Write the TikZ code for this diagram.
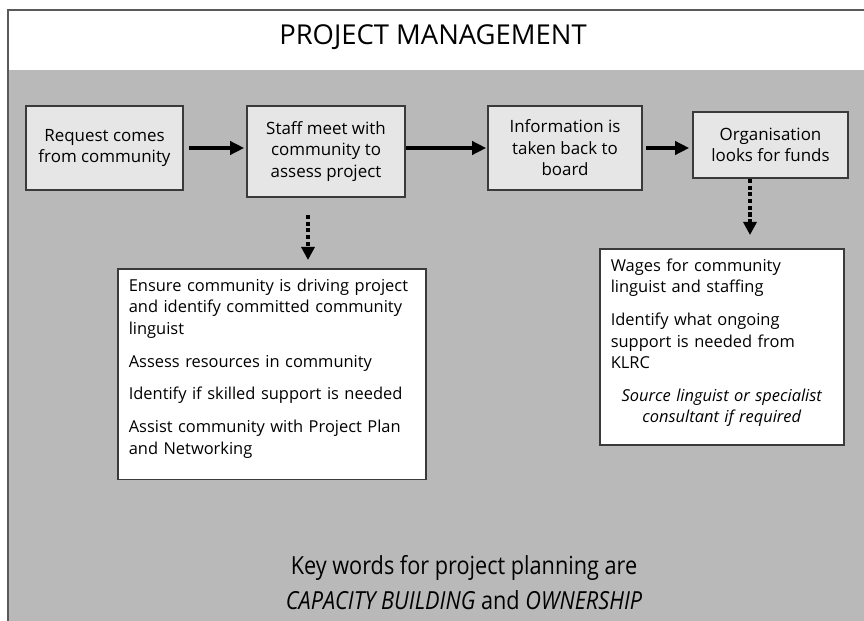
\documentclass[tikz,border=0pt]{standalone}
\usepackage{fontspec}
\setmainfont{Open Sans}
\newfontfamily\narrowfont[FakeStretch=0.87]{Open Sans}
\usetikzlibrary{positioning,arrows.meta}
\definecolor{panelgray}{HTML}{B9B9B9}
\definecolor{boxgray}{HTML}{E6E6E6}
\definecolor{linegray}{HTML}{3A3A3A}
\tikzset{stage box/.style={draw=linegray,line width=1.6bp,fill=boxgray,align=center,inner sep=0pt,font=\fontsize{17}{21.5}\selectfont},
  note box/.style={draw=linegray,line width=1.6bp,fill=white,align=left,anchor=north west,inner xsep=11bp,inner ysep=10bp,font=\fontsize{16.5}{21.5}\selectfont},
  flow arrow/.style={line width=4.5bp,-{Triangle[length=14bp,width=13bp]}},
  drop arrow/.style={line width=4.5bp,dash pattern=on 4bp off 2.7bp,-{Triangle[length=13bp,width=13bp]}},
  key text/.style={font=\narrowfont\fontsize{25}{30}\selectfont,anchor=base} }
\newcommand{\padbelow}[1]{\rule[-#1]{0pt}{#1}}

\begin{document}
\begin{tikzpicture}[x=1bp,y=-1bp]
\useasboundingbox (0,0) rectangle (864,621);
\clip (0,0) rectangle (864,621);

  \fill[white] (8,10) rectangle (880,70);
  \fill[panelgray] (8,70) rectangle (880,640);
  \draw[draw=gray!70!black,line width=1.5bp] (8,640) |- (880,10);
  \node[font=\fontsize{27.5}{30}\selectfont] (title) at (433,37) {PROJECT MANAGEMENT};

  \node[stage box,minimum width=157bp,minimum height=84bp] (request) at (104.5,148) {Request comes\\from community};
  \node[stage box,minimum width=158bp,minimum height=91bp] (staff) at (326,151.5) {Staff meet with\\community to\\assess project};
  \node[stage box,minimum width=154bp,minimum height=84bp] (info) at (565,148) {Information is\\taken back to\\board};
  \node[stage box,minimum width=155bp,minimum height=66bp] (funds) at (770.5,145) {Organisation\\looks for funds};

  \node[note box,text width=286bp] (tasks) at (117,268) {Ensure community is driving project\\and identify committed community\\linguist\\[11.5bp]
    Assess resources in community\\[11.5bp]
    Identify if skilled support is needed\\[11.5bp]
    Assist community with Project Plan\\and Networking\padbelow{15bp}};
  \node[note box,text width=222bp] (support) at (599,248) {Wages for community\\linguist and staffing\\[11.5bp]
    Identify what ongoing\\support is needed from\\KLRC\\[11.5bp]
    \makebox[222bp][c]{\itshape Source linguist or specialist}\\
    \makebox[222bp][c]{\itshape consultant if required}\padbelow{12bp}};

  \coordinate (staffdrop) at (308,215);
  \coordinate (fundsdrop) at (750,179);

  \path (request) edge[flow arrow,shorten <=5bp,shorten >=2bp] (request -| staff.west)
    (info -| staff.east) edge[flow arrow,shorten >=1bp] (info)
    (info) edge[flow arrow,shorten <=3bp,shorten >=3bp] (info -| funds.west)
    (staffdrop) edge[drop arrow,shorten >=8bp] (staffdrop |- tasks.north)
    (fundsdrop) edge[drop arrow,shorten >=13bp] (fundsdrop |- support.north);

  \node[key text] (keywords) at (464,574) {Key words for project planning are};
  \node[key text] (ownership) at (464,609) {\itshape CAPACITY BUILDING \upshape and \itshape OWNERSHIP};
\end{tikzpicture}
\end{document}
